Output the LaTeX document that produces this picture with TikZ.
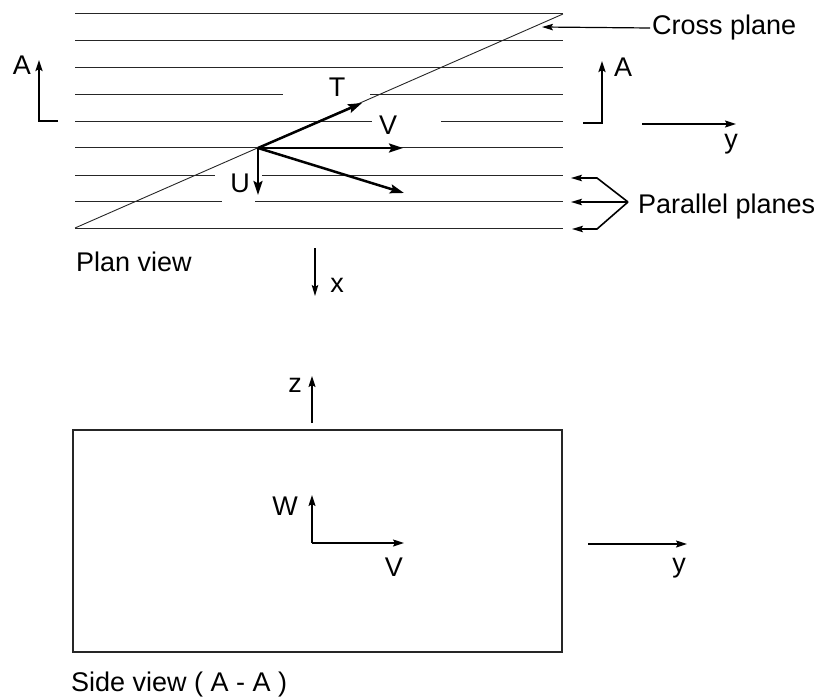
\documentclass[tikz,border=0pt]{standalone}
\usepackage{fontspec}
\setmainfont{Liberation Sans}
\usetikzlibrary{arrows.meta}
\begin{document}
\begin{tikzpicture}[x=1pt,y=-1pt,
  plane/.style={line width=1pt,black!85},
  crossline/.style={line width=0.9pt,black!85},
  vec/.style={line width=2.5pt,-{Stealth[length=14pt,width=9pt,inset=2.5pt]}},
  axis/.style={line width=1.6pt,-{Stealth[length=11pt,width=7pt,inset=2pt]}},
  thinarrow/.style={line width=1.2pt,-{Stealth[length=11pt,width=6.5pt,inset=2pt]}},
  marker/.style={line width=2pt},
  lbl/.style={font=\fontsize{27}{30}\selectfont,inner sep=0pt,anchor=base},
  lblw/.style={font=\fontsize{27}{30}\selectfont,inner sep=0pt,anchor=base west}]
\useasboundingbox (0,0) rectangle (822,698);
% ---------- plan view: parallel planes ----------
\coordinate (L1a) at (75,14);  \coordinate (L1b) at (563,14);
\coordinate (L2a) at (75,41);  \coordinate (L2b) at (563,41);
\coordinate (L3a) at (75,68);  \coordinate (L3b) at (563,68);
\coordinate (L4a) at (75,95);  \coordinate (L4b) at (283,95);
\coordinate (L4c) at (370,95); \coordinate (L4d) at (563,95);
\coordinate (L5a) at (75,122); \coordinate (L5b) at (372,122);
\coordinate (L5c) at (441,122);\coordinate (L5d) at (563,122);
\coordinate (L6a) at (75,148); \coordinate (L6b) at (563,148);
\coordinate (L7a) at (75,175); \coordinate (L7b) at (215,175);
\coordinate (L7c) at (262,175);\coordinate (L7d) at (563,175);
\coordinate (L8a) at (75,201); \coordinate (L8b) at (222,201);
\coordinate (L8c) at (255,201);\coordinate (L8d) at (563,201);
\coordinate (L9a) at (75,228); \coordinate (L9b) at (563,228);
\draw[plane] (L1a) -- (L1b);
\draw[plane] (L2a) -- (L2b);
\draw[plane] (L3a) -- (L3b);
\draw[plane] (L4a) -- (L4b); \draw[plane] (L4c) -- (L4d);
\draw[plane] (L5a) -- (L5b); \draw[plane] (L5c) -- (L5d);
\draw[plane] (L6a) -- (L6b);
\draw[plane] (L7a) -- (L7b); \draw[plane] (L7c) -- (L7d);
\draw[plane] (L8a) -- (L8b); \draw[plane] (L8c) -- (L8d);
\draw[plane] (L9a) -- (L9b);
% cross plane
\draw[crossline] (L9a) -- (L1b);
% ---------- velocity vectors ----------
\coordinate (O) at (258,148);
\coordinate (Tend) at (362,103);
\coordinate (Vend) at (403,148);
\coordinate (Dend) at (404,193);
\coordinate (Uend) at (258,195);
\draw[vec] (O) -- (Tend);
\draw[vec] (O) -- (Vend);
\draw[vec] (O) -- (Dend);
\draw[vec] (O) -- (Uend);
\node[lbl] (T) at (337,97) {T};
\node[lbl] (V) at (388,135) {V};
\node[lbl] (U) at (240,193) {U};
% ---------- section markers A ----------
\coordinate (AL0) at (58,121); \coordinate (AL1) at (39,121); \coordinate (AL2) at (39,60);
\draw[marker,-{Stealth[length=11pt,width=7pt,inset=2pt]}] (AL0) -- (AL1) -- (AL2);
\node[lbl] (AleftLbl) at (22,75) {A};
\coordinate (AR0) at (583,123); \coordinate (AR1) at (602,123); \coordinate (AR2) at (602,61);
\draw[marker,-{Stealth[length=11pt,width=7pt,inset=2pt]}] (AR0) -- (AR1) -- (AR2);
\node[lbl] (ArightLbl) at (623,77) {A};
% y axis (plan)
\coordinate (Y1a) at (642,124); \coordinate (Y1b) at (736,124);
\draw[axis] (Y1a) -- (Y1b);
\node[lbl] (y1) at (731,149) {y};
% cross plane label
\node[lblw] (cross) at (652,35) {Cross plane};
\coordinate (CPa) at (650,28); \coordinate (CPb) at (542,27);
\draw[thinarrow] (CPa) -- (CPb);
% parallel planes label + bracket
\node[lblw] (par) at (638,213) {Parallel planes};
\coordinate (PP) at (628,202);
\coordinate (PPt) at (597,178); \coordinate (PPtE) at (571,178);
\coordinate (PPm) at (571,202);
\coordinate (PPb) at (597,229); \coordinate (PPbE) at (572,229);
\draw[line width=1.6pt,-{Stealth[length=11pt,width=6.5pt,inset=2pt]}] (PP) -- (PPt) -- (PPtE);
\draw[line width=1.6pt,-{Stealth[length=11pt,width=6.5pt,inset=2pt]}] (PP) -- (PPm);
\draw[line width=1.6pt,-{Stealth[length=11pt,width=6.5pt,inset=2pt]}] (PP) -- (PPb) -- (PPbE);
% plan view label and x axis
\node[lblw] (plan) at (76,271) {Plan view};
\coordinate (Xa) at (315,248); \coordinate (Xb) at (315,296);
\draw[thinarrow] (Xa) -- (Xb);
\node[lbl] (xl) at (337,292) {x};
% ---------- side view ----------
\coordinate (R1) at (73,430); \coordinate (R2) at (562,652);
\draw[line width=1.4pt,black!85] (R1) rectangle (R2);
\coordinate (Za) at (312,423); \coordinate (Zb) at (312,376);
\draw[axis] (Za) -- (Zb);
\node[lbl] (zl) at (295,392) {z};
\coordinate (SO) at (312,543); \coordinate (SW) at (312,495); \coordinate (SV) at (404,543);
\draw[axis] (SO) -- (SW);
\draw[axis] (SO) -- (SV);
\node[lbl] (Wl) at (285,515) {W};
\node[lbl] (Vl) at (394,576) {V};
\coordinate (Y2a) at (588,544); \coordinate (Y2b) at (687,544);
\draw[axis] (Y2a) -- (Y2b);
\node[lbl] (y2) at (679,572) {y};
\node[lblw] (side) at (71,691) {Side view ( A - A )};
\end{tikzpicture}
\end{document}
